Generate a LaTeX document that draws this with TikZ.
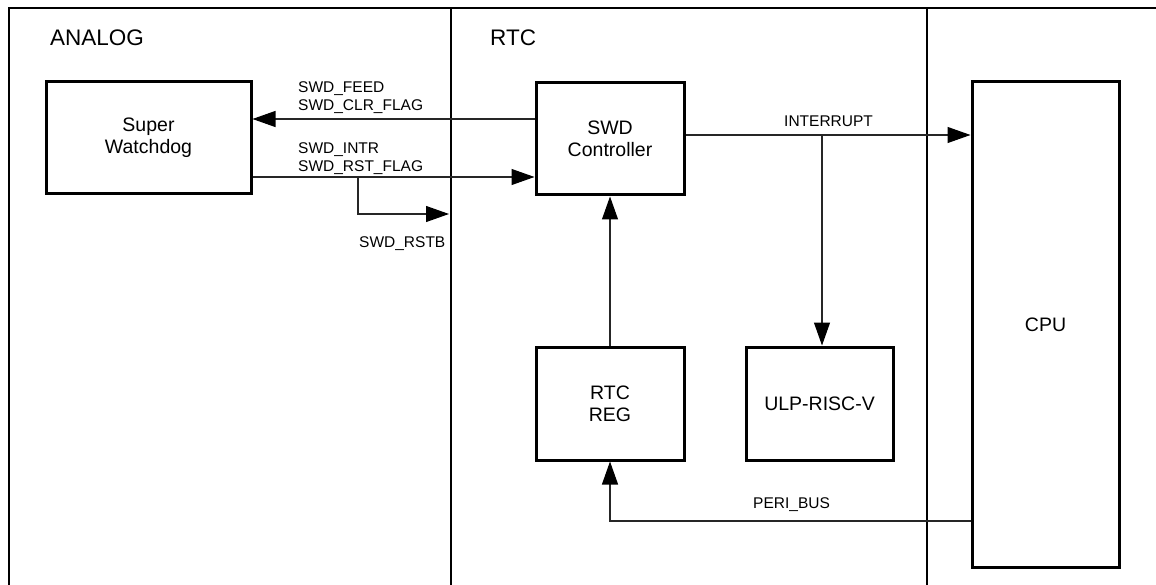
\documentclass[tikz,border=0pt]{standalone}
\usepackage{fontspec}
\setmainfont{Liberation Sans}
\usetikzlibrary{arrows.meta}
\begin{document}
\begin{tikzpicture}[x=1pt,y=-1pt,
  blk/.style={draw=black,line width=3pt,rectangle,align=center,inner sep=0pt,
    font=\fontsize{19.5}{22}\selectfont},
  conn/.style={draw=black!85,line width=1.1pt,-{Triangle[length=23pt,width=16pt,color=black]}},
  frame/.style={draw=black,line width=1.3pt},
  sig/.style={inner sep=0pt,font=\fontsize{15.5}{18}\selectfont},
  ttl/.style={inner sep=0pt,anchor=base west,font=\fontsize{22.5}{26}\selectfont}]
\useasboundingbox (0,0) rectangle (1156,585);
% frame and dividers
\coordinate (ftl) at (9,8);
\coordinate (ftr) at (1156,8);
\coordinate (fbl) at (9,585);
\coordinate (d1t) at (451,8);
\coordinate (d1b) at (451,585);
\coordinate (d2t) at (927,8);
\coordinate (d2b) at (927,585);
\draw[frame] (fbl) -- (ftl) -- (ftr);
\draw[frame] (d1t) -- (d1b);
\draw[frame] (d2t) -- (d2b);
% titles
\node[ttl] (tanalog) at (50,46) {ANALOG};
\node[ttl] (trtc) at (490,46) {RTC};
% blocks
\node[blk,minimum width=205pt,minimum height=112pt] (wd) at (148.5,138) {Super\\Watchdog};
\node[blk,minimum width=148pt,minimum height=112pt] (swd) at (610,139) {SWD\\Controller};
\node[blk,minimum width=147pt,minimum height=485pt] (cpu) at (1045.5,324.5) {CPU};
\node[blk,minimum width=148pt,minimum height=113pt] (rtcreg) at (610,403.5) {RTC\\REG};
\node[blk,minimum width=147pt,minimum height=113pt] (ulp) at (819.5,403.5) {ULP-RISC-V};
% helper coordinates
\coordinate (y1) at (0,119);
\coordinate (y2) at (0,177);
\coordinate (y3) at (0,135);
\coordinate (y4) at (0,521);
\coordinate (br) at (358,177);
\coordinate (rstb) at (449,214);
\coordinate (ib) at (822,135);
% connectors
\draw[conn] (swd.west |- y1) -- (wd.east |- y1);
\draw[conn] (wd.east |- y2) -- (swd.west |- y2);
\draw[conn] (br) |- (rstb);
\draw[conn] (swd.east |- y3) -- (cpu.west |- y3);
\draw[conn] (ib) -- (ib |- ulp.north);
\draw[conn] (rtcreg.north) -- (swd.south);
\draw[conn] (cpu.west |- y4) -| (rtcreg.south);
% labels
\node[sig,anchor=base west] (l1) at (298,93) {SWD\_FEED};
\node[sig,anchor=base west] (l2) at (298,111) {SWD\_CLR\_FLAG};
\node[sig,anchor=base west] (l3) at (298,154) {SWD\_INTR};
\node[sig,anchor=base west] (l4) at (298,172) {SWD\_RST\_FLAG};
\node[sig,anchor=base west] (l5) at (359,248) {SWD\_RSTB};
\node[sig,anchor=base west] (l6) at (784,127) {INTERRUPT};
\node[sig,anchor=base west] (l7) at (753,508) {PERI\_BUS};
\end{tikzpicture}
\end{document}
